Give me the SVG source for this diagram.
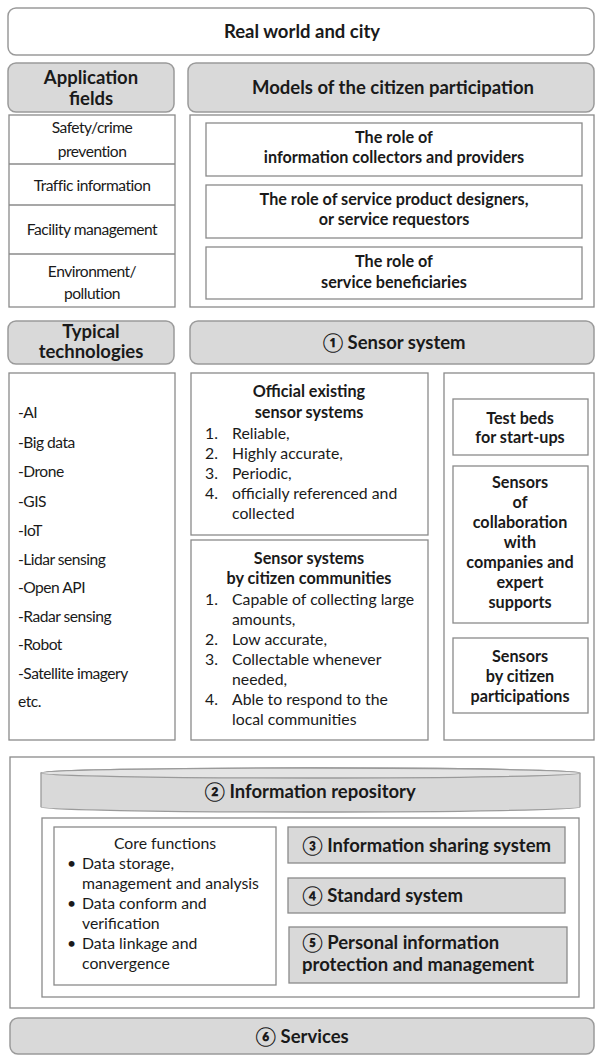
<svg xmlns="http://www.w3.org/2000/svg" width="595" height="1057" viewBox="0 0 595 1057">
<style>
text{font-family:Lato,"Liberation Sans","DejaVu Sans",sans-serif;fill:#1a1a1a}
.hd{font-size:18.5px;font-weight:bold;text-anchor:middle}
.sb{font-size:16.2px;font-weight:bold;text-anchor:middle}
.ls{font-size:15.6px;letter-spacing:-0.5px}
.lc{font-size:15.6px;letter-spacing:-0.5px;text-anchor:middle}
.it{font-size:15.8px}
.cf{font-size:15.8px}
.bx{font-size:18.5px;font-weight:bold}
.hdr{fill:#d9d9d9;stroke:#9a9a9a;stroke-width:1.5}
.wr{fill:#fff;stroke:#9a9a9a;stroke-width:1.5}
.box{fill:#fff;stroke:#8a8a8a;stroke-width:1.3}
.gb{fill:#d9d9d9;stroke:#8a8a8a;stroke-width:1.3}
</style>
<rect width="595" height="1057" fill="#fff"/>

<g id="real-world">
<rect class="wr" x="8" y="8" width="586" height="47" rx="8"/>
<text class="hd" x="302" y="38">Real world and city</text>
</g>

<g id="application-fields-header">
<rect class="hdr" x="8" y="63" width="166" height="49" rx="8"/>
<text class="hd" x="91" y="84">Application</text>
<text class="hd" x="91" y="105">fields</text>
</g>

<g id="models-header">
<rect class="hdr" x="188" y="63" width="406" height="49" rx="8"/>
<text class="hd" x="393" y="94">Models of the citizen participation</text>
</g>

<g id="application-fields">
<rect class="box" x="9" y="115" width="166" height="192"/>
<line x1="9" y1="164" x2="175" y2="164" stroke="#8a8a8a" stroke-width="1.3"/>
<line x1="9" y1="205" x2="175" y2="205" stroke="#8a8a8a" stroke-width="1.3"/>
<line x1="9" y1="254" x2="175" y2="254" stroke="#8a8a8a" stroke-width="1.3"/>
<text class="lc" x="92" y="133">Safety/crime</text>
<text class="lc" x="92" y="157">prevention</text>
<text class="lc" x="92" y="191">Traffic information</text>
<text class="lc" x="92" y="235">Facility management</text>
<text class="lc" x="92" y="277">Environment/</text>
<text class="lc" x="92" y="299">pollution</text>
</g>

<g id="models">
<rect class="box" x="190" y="115" width="404" height="192"/>
<g id="role-collectors">
<rect class="box" x="206" y="123" width="376" height="53"/>
<text class="sb" x="394" y="143">The role of</text>
<text class="sb" x="394" y="163">information collectors and providers</text>
</g>
<g id="role-designers">
<rect class="box" x="206" y="185" width="376" height="53"/>
<text class="sb" x="394" y="205">The role of service product designers,</text>
<text class="sb" x="394" y="225">or service requestors</text>
</g>
<g id="role-beneficiaries">
<rect class="box" x="206" y="247" width="376" height="52"/>
<text class="sb" x="394" y="267">The role of</text>
<text class="sb" x="394" y="288">service beneficiaries</text>
</g>
</g>

<g id="typical-technologies-header">
<rect class="hdr" x="8" y="321" width="166" height="43" rx="8"/>
<text class="hd" x="91" y="338">Typical</text>
<text class="hd" x="91" y="358">technologies</text>
</g>

<g id="sensor-system-header">
<rect class="hdr" x="190" y="321" width="404" height="43" rx="8"/>
<text class="hd" x="394" y="349">① Sensor system</text>
</g>

<g id="technologies">
<rect class="box" x="9" y="373" width="166" height="367"/>
<text class="ls" x="18" y="418">-AI</text>
<text class="ls" x="18" y="448">-Big data</text>
<text class="ls" x="18" y="477">-Drone</text>
<text class="ls" x="18" y="507">-GIS</text>
<text class="ls" x="18" y="536">-IoT</text>
<text class="ls" x="18" y="565">-Lidar sensing</text>
<text class="ls" x="18" y="593">-Open API</text>
<text class="ls" x="18" y="622">-Radar sensing</text>
<text class="ls" x="18" y="650">-Robot</text>
<text class="ls" x="18" y="679">-Satellite imagery</text>
<text class="ls" x="18" y="707">etc.</text>
</g>

<g id="official-sensors">
<rect class="box" x="191" y="373" width="237" height="162"/>
<text class="sb" x="309" y="397">Official existing</text>
<text class="sb" x="309" y="418">sensor systems</text>
<text class="it" x="205" y="439">1.</text><text class="it" x="232" y="439">Reliable,</text>
<text class="it" x="205" y="459">2.</text><text class="it" x="232" y="459">Highly accurate,</text>
<text class="it" x="205" y="479">3.</text><text class="it" x="232" y="479">Periodic,</text>
<text class="it" x="205" y="499">4.</text><text class="it" x="232" y="499">officially referenced and</text>
<text class="it" x="232" y="519">collected</text>
</g>

<g id="citizen-sensors">
<rect class="box" x="191" y="540" width="237" height="200"/>
<text class="sb" x="309" y="564">Sensor systems</text>
<text class="sb" x="309" y="584">by citizen communities</text>
<text class="it" x="205" y="605">1.</text><text class="it" x="232" y="605">Capable of collecting large</text>
<text class="it" x="232" y="625">amounts,</text>
<text class="it" x="205" y="645">2.</text><text class="it" x="232" y="645">Low accurate,</text>
<text class="it" x="205" y="665">3.</text><text class="it" x="232" y="665">Collectable whenever</text>
<text class="it" x="232" y="685">needed,</text>
<text class="it" x="205" y="705">4.</text><text class="it" x="232" y="705">Able to respond to the</text>
<text class="it" x="232" y="725">local communities</text>
</g>

<g id="other-sensors">
<rect class="box" x="444" y="373" width="150" height="367"/>
<g id="test-beds">
<rect class="box" x="453" y="399" width="135" height="56"/>
<text class="sb" x="520" y="424">Test beds</text>
<text class="sb" x="520" y="443">for start-ups</text>
</g>
<g id="collaboration-sensors">
<rect class="box" x="453" y="466" width="135" height="157"/>
<text class="sb" x="520" y="488">Sensors</text>
<text class="sb" x="520" y="508">of</text>
<text class="sb" x="520" y="528">collaboration</text>
<text class="sb" x="520" y="548">with</text>
<text class="sb" x="520" y="568">companies and</text>
<text class="sb" x="520" y="588">expert</text>
<text class="sb" x="520" y="608">supports</text>
</g>
<g id="participation-sensors">
<rect class="box" x="453" y="638" width="135" height="75"/>
<text class="sb" x="520" y="662">Sensors</text>
<text class="sb" x="520" y="682">by citizen</text>
<text class="sb" x="520" y="702">participations</text>
</g>
</g>

<g id="repository-section">
<rect class="box" x="10" y="757" width="584" height="251"/>
<g id="information-repository">
<path d="M41,773 A269.5,5 0 0 1 580,773 L580,807 A269.5,5 0 0 1 41,807 Z" fill="#d9d9d9" stroke="#9a9a9a" stroke-width="1.3"/>
<ellipse cx="310.5" cy="773" rx="269.5" ry="5" fill="#e4e4e4" stroke="#9a9a9a" stroke-width="1.3"/>
<text class="hd" x="310" y="798">② Information repository</text>
</g>
<rect class="box" x="42" y="818" width="537" height="179"/>
<g id="core-functions">
<rect class="box" x="54" y="827" width="222" height="158"/>
<text class="cf" x="165" y="849" text-anchor="middle">Core functions</text>
<text class="cf" x="67" y="869">•</text><text class="cf" x="82" y="869">Data storage,</text>
<text class="cf" x="82" y="889">management and analysis</text>
<text class="cf" x="67" y="909">•</text><text class="cf" x="82" y="909">Data conform and</text>
<text class="cf" x="82" y="929">verification</text>
<text class="cf" x="67" y="949">•</text><text class="cf" x="82" y="949">Data linkage and</text>
<text class="cf" x="82" y="969">convergence</text>
</g>
<g id="sharing-system">
<rect class="gb" x="288" y="827" width="277" height="36"/>
<text class="bx" x="302" y="852">③ Information sharing system</text>
</g>
<g id="standard-system">
<rect class="gb" x="288" y="878" width="277" height="35"/>
<text class="bx" x="302" y="902">④ Standard system</text>
</g>
<g id="personal-info">
<rect class="gb" x="289" y="927" width="278" height="56"/>
<text class="bx" x="302" y="949">⑤ Personal information</text>
<text class="bx" x="302" y="971">protection and management</text>
</g>
</g>

<g id="services">
<rect class="hdr" x="10" y="1018" width="584" height="36" rx="8"/>
<text class="hd" x="302" y="1043">⑥ Services</text>
</g>

<g id="connectors"></g>
</svg>
